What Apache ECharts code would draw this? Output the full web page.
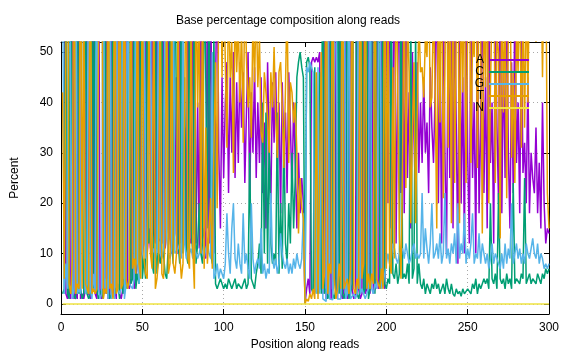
<!DOCTYPE html>
<html>
<head>
<meta charset="utf-8">
<script src="https://cdn.jsdelivr.net/npm/echarts@6/dist/echarts.min.js"></script>
<style>html,body{margin:0;padding:0;background:#fff}#c{width:576px;height:360px}</style>
</head>
<body>
<div id="c"></div>
<script>
const seriesNames = ['A', 'C', 'G', 'T', 'N'];
const xTicks = [0, 50, 100, 150, 200, 250, 300];
const yTicks = [0, 10, 20, 30, 40, 50];

const baseA = [
60,90,2,1,3,1,88,1,2,1, 92,1,2,1,3,90,2,1,3,88, 2,1,93,2,1,3,2,91,1,2, 93,2,3,1,90,2,1,3,2,88,
4,3,5,85,3,5,8,84,9,10, 12,80,10,15,11,75,14,12,78,13, 13,12,74,11,15,72,13,10,12,14, 45,10,70,12,14,35,11,72,13,12,
70,14,12,40,11,68,13,15,9,65, 12,60,35,10,42,70,30,15,45,25, 40,48,22,45,30,50,25,44,28,48, 35,46,24,38,50,20,42,30,47,25,
40,28,45,22,36,15,48,30,20,44, 32,46,27,40,18,44,30,38,22,46, 36,22,40,28,15,30,18,25,20,0, 3,5,2,48,49,48,49,48,50,3,
2,90,1,2,88,1,3,92,2,1, 89,2,1,3,92,1,2,90,3,1, 2,91,3,1,2,88,2,3,90,2, 88,2,3,90,3,4,85,5,3,82,
20,80,15,35,75,12,45,70,22,55, 18,60,25,42,15,50,33,20,48,26, 40,28,45,30,36,22,47,35,28,42, 70,20,48,12,65,30,10,55,25,68,
15,60,35,8,72,20,45,10,66,30, 12,58,25,40,10,62,18,35,70,22, 45,15,70,28,40,12,60,35,20,75, 18,50,25,65,30,15,48,22,62,28,
40,18,55,26,32,20,45,18,30,25, 22,35,18,28,15,40,20,12,15,14
];
const baseC = [
2,3,85,2,1,90,2,2,1,93, 2,3,1,2,91,2,1,2,94,3, 94,3,1,2,3,1,92,2,3,1, 2,95,2,3,4,1,93,2,5,3,
3,88,4,5,83,3,6,4,78,5, 9,5,78,12,14,8,6,76,6,10, 8,73,10,6,5,12,70,12,8,75, 35,12,8,74,10,45,10,8,70,15,
10,72,8,12,20,10,8,69,45,15, 70,10,8,55,4,3,4,5,4,3, 4,3,5,4,3,4,5,3,4,4, 3,4,5,3,4,30,5,4,3,6,
8,12,6,40,10,38,8,34,12,8, 10,8,38,6,20,7,35,12,8,20, 12,30,15,25,45,48,50,47,45,0, 48,49,47,3,2,47,3,2,46,2,
93,2,3,1,2,91,2,1,3,94, 2,94,2,1,3,92,1,2,4,93, 95,2,1,3,90,2,3,92,1,3, 3,92,2,2,90,3,5,88,4,3,
5,4,70,6,5,8,4,6,68,5, 6,5,8,4,60,5,7,55,4,8, 4,3,5,2,4,3,2,4,3,5, 3,4,2,3,4,2,5,3,2,4,
2,1.5,3,2,2.5,1.5,3,2,2,3, 3,2,4,3,5,2,4,3,4,5, 4,5,3,20,5,4,6,3,22,5, 4,5,3,6,4,5,3,24,4,5,
5,4,6,5,25,4,5,6,4,5, 5,4,6,5,4,6,5,7,6,7
];
const baseG = [
70,2,8,3,92,38,1,3,95,2, 3,2,94,33,2,4,95,3,1,6, 2,93,3,1,2,95,3,5,1,94, 1,2,1,94,3,2,3,91,1,4,
90,4,4,3,5,86,9,4,8,10, 70,9,10,10,65,10,11,9,11,68, 10,9,11,70,13,10,9,11,72,10, 10,11,12,9,68,12,9,11,10,11,
9,11,10,9,10,12,10,9,11,12, 10,9,50,5,6,8,5,7,6,5, 8,18,10,6,15,20,9,7,12,8, 6,18,8,10,7,5,20,9,6,8,
9,7,15,6,8,5,7,6,22,9, 7,9,6,8,14,10,8,7,9,6, 8,6,9,7,10,8,7,9,18,0, 47,46,48,47,46,3,2,47,2,45,
1,1,0.5,94,1,1,0.8,1,93,1, 1,1,0.8,92,1,2,95,1,1,2, 1,2,93,2,3,2,1,2,3,92, 3,2,4,3,3,90,3,4,6,8,
10,8,9,12,11,9,8,10,10,11, 9,12,10,8,9,11,12,9,10,9, 10,22,9,15,11,8,12,20,9,10, 12,9,14,8,10,22,9,11,8,12,
10,14,8,20,9,12,10,18,8,11, 9,12,18,8,10,9,14,8,12,10, 8,10,7,9,12,8,10,9,8,7, 10,7,12,8,11,9,20,8,10,12,
9,11,8,10,8,12,10,9,11,13, 10,9,12,8,10,9,7,8,7,8
];
const baseT = [
42,5,5,94,4,2,9,94,2,4, 3,94,3,64,4,4,2,94,2,3, 2,3,3,95,94,1,3,2,95,3, 4,1,94,2,3,95,3,4,92,5,
3,5,87,7,9,6,77,8,5,75, 9,6,5,63,10,7,69,3,5,9, 69,6,5,13,67,6,8,67,8,6, 10,67,10,5,8,8,70,9,7,62,
11,3,70,39,59,10,69,7,35,8, 8,21,7,30,48,19,61,73,45,67, 48,31,63,45,52,26,61,46,56,40, 56,32,63,49,39,45,33,57,44,61,
43,53,34,32,46,42,37,30,46,39, 51,37,29,46,48,39,27,43,61,28, 44,42,36,40,30,14,25,19,17,0, 1,0.5,2,1,3,1,46,1,1,50,
3,6,95,2,8,6,93,5,1,3, 8,3,96,3,4,5,2,7,92,3, 2,5,3,94,5,8,94,3,6,3, 6,4,91,5,4,3,7,3,87,7,
65,8,6,47,9,71,43,14,5,29, 67,23,57,46,16,34,48,16,38,57, 46,47,41,53,49,67,39,41,60,43, 15,67,36,77,21,46,76,31,65,16,
73,24,54,70,16,66,42,70,24,56, 76,28,53,49,75,27,64,54,14,63, 43,70,20,43,43,76,24,53,50,13, 68,38,60,21,55,71,29,46,24,55,
46,67,31,59,35,64,40,67,55,57, 63,52,64,59,71,45,68,73,22,15
];
const baseN = [
0,0,0,0,0,0,0,0,0,0, 0,0,0,0,0,0,0,0,0,0, 0,0,0,0,0,0,0,0,0,0, 0,0,0,0,0,0,0,0,0,0,
0,0,0,0,0,0,0,0,0,0, 0,0,0,0,0,0,0,0,0,0, 0,0,0,0,0,0,0,0,0,0, 0,0,0,0,0,0,0,0,0,0,
0,0,0,0,0,0,0,0,0,0, 0,0,0,0,0,0,0,0,0,0, 0,0,0,0,0,0,0,0,0,0, 0,0,0,0,0,0,0,0,0,0,
0,0,0,0,0,0,0,0,0,0, 0,0,0,0,0,0,0,0,0,0, 0,0,0,0,0,0,0,0,0,0, 0,0,0,0,0,0,0,0,0,0,
0,0,0,0,0,0,0,0,0,0, 0,0,0,0,0,0,0,0,0,0, 0,0,0,0,0,0,0,0,0,0, 0,0,0,0,0,0,0,0,0,0,
0,0,0,0,0,0,0,0,0,0, 0,0,0,0,0,0,0,0,0,0, 0,0,0,0,0,0,0,0,0,0, 0,0,0,0,0,0,0,0,0,0,
0,0,0,0,0,0,0,0,0,0, 0,0,0,0,0,0,0,0,0,0, 0,0,0,0,0,0,0,0,0,0, 0,0,0,0,0,0,0,0,0,0,
0,0,0,0,0,0,0,0,0,0, 0,0.3,0,0,0,0,0,0,0,0
];

const colors = ['#9400d3', '#009e73', '#56b4e9', '#e69f00', '#f0e442'];
const values = [baseA, baseC, baseG, baseT, baseN];
const FONT = 'Liberation Sans, Arial, sans-serif';

const chart = echarts.init(document.getElementById('c'), null, {renderer: 'canvas'});

function yAx(pos, labels) {
  return {
    type: 'value', position: pos, min: -2, max: 52, splitNumber: 5,
    axisLine: {show: true, onZero: false, lineStyle: {color: '#000', width: 1}},
    axisTick: {show: true, inside: true, length: 5, lineStyle: {color: '#000'}},
    axisLabel: {show: labels, color: '#000', fontSize: 12, fontFamily: FONT, margin: 8,
      showMinLabel: false, showMaxLabel: false,
      formatter: v => (yTicks.indexOf(v) >= 0 ? String(v) : '')},
    splitLine: {show: labels, lineStyle: {color: '#a8a8a8', type: [1, 3], width: 1}},
    name: labels ? 'Percent' : '', nameLocation: 'middle', nameGap: 40, nameRotate: 90,
    nameTextStyle: {color: '#000', fontSize: 12, fontFamily: FONT}
  };
}
function xAx(pos, labels) {
  return {
    type: 'value', position: pos, min: xTicks[0], max: xTicks[xTicks.length - 1], interval: 50,
    axisLine: {show: true, onZero: false, lineStyle: {color: '#000', width: 1}},
    axisTick: {show: true, inside: true, length: 5, lineStyle: {color: '#000'}},
    axisLabel: {show: labels, color: '#000', fontSize: 12, fontFamily: FONT, margin: 8},
    splitLine: {show: labels, lineStyle: {color: '#a8a8a8', type: [1, 3], width: 1}},
    name: labels ? 'Position along reads' : '', nameLocation: 'middle', nameGap: 24,
    nameTextStyle: {color: '#000', fontSize: 12, fontFamily: FONT}
  };
}

chart.setOption({
  animation: false,
  backgroundColor: '#fff',
  title: {text: 'Base percentage composition along reads', left: 'center', top: 10,
    textStyle: {fontSize: 12, fontWeight: 'normal', color: '#000', fontFamily: FONT}},
  grid: {left: 61, right: 27, top: 42, bottom: 46, containLabel: false},
  legend: {
    orient: 'vertical', right: 42, top: 49, align: 'right',
    icon: 'rect', itemWidth: 40, itemHeight: 2, itemGap: 0,
    textStyle: {color: '#000', fontSize: 12, fontFamily: FONT},
    data: seriesNames
  },
  xAxis: [xAx('bottom', true), xAx('top', false)],
  yAxis: [yAx('left', true), yAx('right', false)],
  series: seriesNames.map((name, k) => ({
    name: name, type: 'line', xAxisIndex: 0, yAxisIndex: 0,
    symbol: 'none', clip: true,
    lineStyle: {color: colors[k], width: 1.5},
    itemStyle: {color: colors[k]},
    data: values[k].map((v, i) => [i + 1, v])
  }))
});
</script>
</body>
</html>
